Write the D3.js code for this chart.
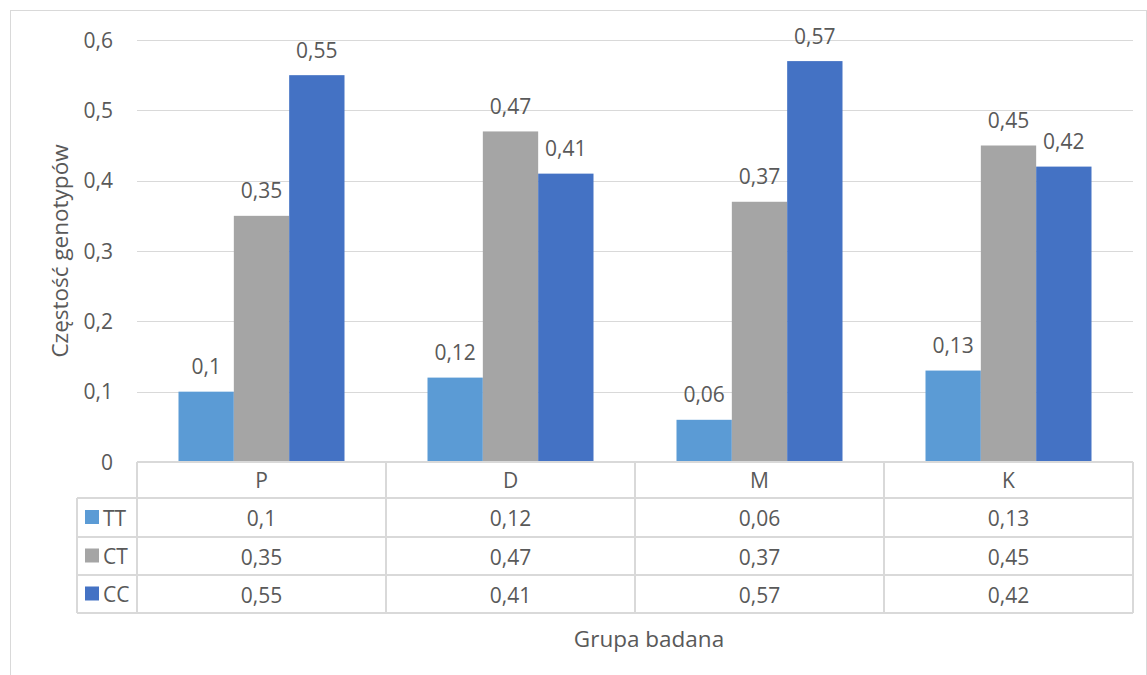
<!DOCTYPE html>
<html>
<head>
<meta charset="utf-8">
<script src="https://cdn.jsdelivr.net/npm/d3@7"></script>
<style>
  html, body { margin: 0; padding: 0; background: #fff; }
  svg { display: block; }
  text { font-family: "Open Sans", Lato, sans-serif; fill: #595959; }
</style>
</head>
<body>
<svg id="chart" width="1147" height="675"></svg>
<script>
// Genotype frequencies per study group
const categories = ["P", "D", "M", "K"];
const seriesNames = ["TT", "CT", "CC"];
const valuesTT = [0.10, 0.12, 0.06, 0.13];
const valuesCT = [0.35, 0.47, 0.37, 0.45];
const valuesCC = [0.55, 0.41, 0.57, 0.42];
const yTicks = [0, 0.1, 0.2, 0.3, 0.4, 0.5, 0.6];
const seriesColors = ["#5B9BD5", "#A5A5A5", "#4472C4"];

const series = seriesNames.map((name, i) => ({
  name,
  color: seriesColors[i],
  values: [valuesTT, valuesCT, valuesCC][i]
}));

const fmt = v => String(+v.toFixed(2)).replace(".", ",");
const FS = 21;
const TITLE_FS = 22.5;

const svg = d3.select("#chart");

// Chart area frame
svg.append("rect")
  .attr("x", 10.5).attr("y", 10.5)
  .attr("width", 1136).attr("height", 700)
  .attr("fill", "none").attr("stroke", "#D9D9D9").attr("stroke-width", 1);

const plot = { left: 137, right: 1133, top: 40, bottom: 462 };

const y = d3.scaleLinear().domain([0, 0.6]).range([plot.bottom, plot.top]);
const x0 = d3.scaleBand().domain(categories).range([plot.left, plot.right]).padding(0);
const x1 = d3.scaleBand().domain(seriesNames).range([0, x0.bandwidth()])
  .paddingInner(0).paddingOuter(0.75);

// Gridlines
svg.append("g").selectAll("line")
  .data(yTicks.filter(t => t > 0))
  .join("line")
  .attr("x1", plot.left).attr("x2", plot.right)
  .attr("y1", d => Math.round(y(d)) + 0.5).attr("y2", d => Math.round(y(d)) + 0.5)
  .attr("stroke", "#D9D9D9").attr("stroke-width", 1);

// Y tick labels
svg.append("g").selectAll("text")
  .data(yTicks)
  .join("text")
  .attr("x", 113)
  .attr("y", d => y(d) + 7.5)
  .attr("text-anchor", "end")
  .attr("font-size", FS)
  .text(fmt);

// Bars
const groups = svg.append("g").selectAll("g")
  .data(categories)
  .join("g")
  .attr("transform", d => `translate(${x0(d)},0)`);

groups.selectAll("rect")
  .data((c, ci) => series.map(s => ({ s, v: s.values[ci] })))
  .join("rect")
  .attr("x", d => x1(d.s.name))
  .attr("y", d => y(d.v))
  .attr("width", x1.bandwidth())
  .attr("height", d => y(0) - y(d.v))
  .attr("fill", d => d.s.color);

// Value labels above bars
groups.selectAll("text")
  .data((c, ci) => series.map(s => ({ s, v: s.values[ci] })))
  .join("text")
  .attr("x", d => x1(d.s.name) + x1.bandwidth() / 2)
  .attr("y", d => y(d.v) - 17.5)
  .attr("text-anchor", "middle")
  .attr("font-size", FS)
  .text(d => fmt(d.v));

// Data table beneath the plot
const rowTop = [462, 498, 537, 575, 613];
const tableLeft = 77;
const grid = svg.append("g")
  .attr("stroke", "#D9D9D9").attr("stroke-width", 2).attr("fill", "none");

grid.append("line").attr("x1", plot.left).attr("x2", plot.right)
  .attr("y1", rowTop[0]).attr("y2", rowTop[0]);
rowTop.slice(1).forEach(yy => {
  grid.append("line").attr("x1", tableLeft).attr("x2", plot.right)
    .attr("y1", yy).attr("y2", yy);
});
grid.append("line").attr("x1", tableLeft).attr("x2", tableLeft)
  .attr("y1", rowTop[1]).attr("y2", rowTop[4]);
const colEdges = [plot.left, ...categories.map(c => x0(c) + x0.bandwidth())];
colEdges.forEach(xx => {
  grid.append("line").attr("x1", xx).attr("x2", xx)
    .attr("y1", rowTop[0]).attr("y2", rowTop[4]);
});

// header row: category names
svg.append("g").selectAll("text")
  .data(categories)
  .join("text")
  .attr("x", d => x0(d) + x0.bandwidth() / 2)
  .attr("y", (rowTop[0] + rowTop[1]) / 2 + 8)
  .attr("text-anchor", "middle")
  .attr("font-size", FS)
  .text(d => d);

// series rows with legend keys
series.forEach((s, i) => {
  const cy = (rowTop[i + 1] + rowTop[i + 2]) / 2;
  svg.append("rect")
    .attr("x", 85).attr("y", cy - 7.5)
    .attr("width", 14).attr("height", 14)
    .attr("fill", s.color);
  svg.append("text")
    .attr("x", 103).attr("y", cy + 8)
    .attr("font-size", FS)
    .text(s.name);
  svg.append("g").selectAll("text")
    .data(s.values)
    .join("text")
    .attr("x", (d, ci) => x0(categories[ci]) + x0.bandwidth() / 2)
    .attr("y", cy + 8.5)
    .attr("text-anchor", "middle")
    .attr("font-size", FS)
    .text(fmt);
});

// Axis titles
svg.append("text")
  .attr("x", 649)
  .attr("y", 647)
  .attr("text-anchor", "middle")
  .attr("font-size", TITLE_FS)
  .text("Grupa badana");

svg.append("text")
  .attr("transform", `translate(68,251) rotate(-90)`)
  .attr("text-anchor", "middle")
  .attr("font-size", TITLE_FS)
  .text("Częstość genotypów");
</script>
</body>
</html>
